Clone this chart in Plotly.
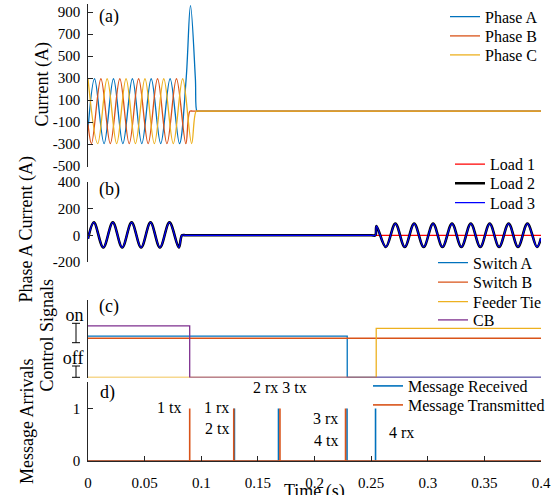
import plotly.graph_objects as go

# ---------------- data ----------------
# Panel (a): three-phase feeder current, extrema / break points (time s, current A)
phase_a_t = [0.0, 0.0058, 0.0142, 0.0225, 0.0308, 0.0392, 0.0475, 0.0558, 0.0642,
             0.0725, 0.0808, 0.0867, 0.0905, 0.0948, 0.0962, 0.0975, 0.1000, 0.4000]
phase_a_i = [-165, 295, -295, 295, -295, 295, -295, 295, -295,
             295, -295, 300, 960, 300, 0, 0, 0, 0]
phase_b_t = [0.0, 0.0031, 0.0114, 0.0197, 0.0281, 0.0364, 0.0447, 0.0531, 0.0614,
             0.0697, 0.0781, 0.0864, 0.0900, 0.0925, 0.1000, 0.4000]
phase_b_i = [-118, -295, 295, -295, 295, -295, 295, -295, 295,
             -295, 295, -295, 0, 0, 0, 0]
phase_c_t = [0.0, 0.0086, 0.0169, 0.0253, 0.0336, 0.0419, 0.0503, 0.0586, 0.0669,
             0.0753, 0.0836, 0.0915, 0.0955, 0.0980, 0.1000, 0.4000]
phase_c_i = [295, -295, 295, -295, 295, -295, 295, -295, 295,
             -295, 295, -295, 0, 0, 0, 0]

# Panel (b): phase A load currents (A)
load1_t = [0.0, 0.0052, 0.0135, 0.0219, 0.0302, 0.0385, 0.0469, 0.0552, 0.0635,
           0.0719, 0.0802, 0.0830, 0.0860, 0.0900, 0.4000]
load1_i = [-26, 97, -92, 97, -92, 97, -92, 97, -92,
           97, -92, 0, 0, 0, 0]
load23_t = [0.0, 0.0052, 0.0135, 0.0219, 0.0302, 0.0385, 0.0469, 0.0552, 0.0635,
            0.0719, 0.0802, 0.0830, 0.0860, 0.0900, 0.2500, 0.2537,
            0.2547, 0.2630, 0.2714, 0.2797, 0.2880, 0.2964, 0.3047, 0.3130, 0.3214,
            0.3297, 0.3380, 0.3464, 0.3547, 0.3630, 0.3714, 0.3797, 0.3880, 0.3964, 0.4000]
load23_i = [-26, 97, -92, 97, -92, 97, -92, 97, -92,
            97, -92, 0, 0, 0, 0, 0,
            70, -88, 88, -88, 88, -88, 88, -88, 88,
            -88, 88, -88, 88, -88, 88, -88, 88, -88, -20]

# Panel (c): control signals (step levels)
switch_a_t = [0.0, 0.2289, 0.4]
switch_a_v = [0.80, 0.0, 0.0]
switch_b_t = [0.0, 0.4]
switch_b_v = [0.76, 0.76]
feeder_tie_t = [0.0, 0.2545, 0.4]
feeder_tie_v = [0.0, 0.95, 0.95]
cb_t = [0.0, 0.0898, 0.4]
cb_v = [1.0, 0.0, 0.0]

# Panel (d): message events (s)
rx_times = [0.1293, 0.1682, 0.2287, 0.2539]
tx_times = [0.0898, 0.1287, 0.1695, 0.2274]

x_tick_vals = [0, 0.05, 0.1, 0.15, 0.2, 0.25, 0.3, 0.35, 0.4]
x_tick_text = ["0", "0.05", "0.1", "0.15", "0.2", "0.25", "0.3", "0.35", "0.4"]
y_a_ticks = [-500, -300, -100, 100, 300, 500, 700, 900]
y_a_text = ["-500", "-300", "-100", "100", "300", "500", "700", "900"]
y_b_ticks = [-200, 0, 200, 400]
y_b_text = ["-200", "0", "200", "400"]
y_d_ticks = [0, 1]
y_d_text = ["0", "1"]

# ---------------- styling ----------------
BLUE, ORANGE, YELLOW, PURPLE = "#0072BD", "#D95319", "#EDB120", "#7E2F8E"
FONT = "Liberation Serif, Times New Roman, serif"
AX = "#262626"
NB = "\u00a0"
W, H = 560, 495
L, R, T, B = 88, 19, 4, 34
PW, PH = W - L - R, H - T - B


def px_x(px):
    return (px - L) / PW


def px_y(py):
    return (H - B - py) / PH


def stem_xy(times, t0=0.0, t1=0.4):
    xs, ys = [t0], [0]
    for t in times:
        xs += [t, t, t]
        ys += [0, 1, 0]
    xs.append(t1)
    ys.append(0)
    return xs, ys


fig = go.Figure()

# (a)
for name, t, v, c, leg in [("Phase A", phase_a_t, phase_a_i, BLUE, "legend"),
                           ("Phase B", phase_b_t, phase_b_i, ORANGE, "legend2"),
                           ("Phase C", phase_c_t, phase_c_i, YELLOW, "legend3")]:
    fig.add_trace(go.Scatter(x=t, y=v, mode="lines", name=name, legend=leg, showlegend=True,
                             line=dict(color=c, width=1.3, shape="spline"),
                             xaxis="x", yaxis="y"))
# (b)
fig.add_trace(go.Scatter(x=load1_t, y=load1_i, mode="lines", name="Load 1", legend="legend4",
                         line=dict(color="#FF0000", width=1.3, shape="spline"), xaxis="x2", yaxis="y2"))
fig.add_trace(go.Scatter(x=load23_t, y=load23_i, mode="lines", name="Load 2", legend="legend5",
                         line=dict(color="#000000", width=2.6, shape="spline"), xaxis="x2", yaxis="y2"))
fig.add_trace(go.Scatter(x=load23_t, y=load23_i, mode="lines", name="Load 3", legend="legend6",
                         line=dict(color="#0000FF", width=1.2, shape="spline"), xaxis="x2", yaxis="y2"))
# (c)
for name, t, v, c, leg in [("Switch A", switch_a_t, switch_a_v, BLUE, "legend7"),
                           ("Switch B", switch_b_t, switch_b_v, ORANGE, "legend8"),
                           ("Feeder Tie", feeder_tie_t, feeder_tie_v, YELLOW, "legend9"),
                           ("CB", cb_t, cb_v, PURPLE, "legend10")]:
    fig.add_trace(go.Scatter(x=t, y=v, mode="lines", name=name, legend=leg,
                             line=dict(color=c, width=1.3, shape="hv"),
                             xaxis="x3", yaxis="y3"))
# (d)
rx_x, rx_y = stem_xy(rx_times)
tx_x, tx_y = stem_xy(tx_times)
fig.add_trace(go.Scatter(x=rx_x, y=rx_y, mode="lines", name="Message Received", legend="legend11",
                         line=dict(color=BLUE, width=1.6), xaxis="x4", yaxis="y4"))
fig.add_trace(go.Scatter(x=tx_x, y=tx_y, mode="lines", name="Message Transmitted", legend="legend12",
                         line=dict(color=ORANGE, width=1.6), xaxis="x4", yaxis="y4"))

# domains
dom_a = [px_y(166.7), 1.0]
dom_b = [px_y(262), px_y(182)]
dom_c = [px_y(377.5), px_y(300)]
dom_d = [0.0, px_y(382.4)]

hidden_x = dict(range=[0, 0.4], visible=False)
yax_common = dict(showgrid=False, zeroline=False, showline=True, linecolor=AX, linewidth=1,
                  ticks="inside", ticklen=5, tickcolor=AX, tickwidth=1, ticklabeloverflow="allow",
                  tickfont=dict(family=FONT, size=15, color="black"))

layout = dict(
    width=W, height=H, margin=dict(l=L, r=R, t=T, b=B, autoexpand=False),
    paper_bgcolor="white", plot_bgcolor="white", showlegend=True,
    font=dict(family=FONT, size=15, color="black"),
    xaxis=dict(hidden_x, anchor="y"),
    xaxis2=dict(hidden_x, anchor="y2"),
    xaxis3=dict(hidden_x, anchor="y3"),
    # labelled time axis: transparent outside ticks push the labels down
    xaxis4=dict(range=[0, 0.4], anchor="y4", showgrid=False, zeroline=False, showline=True,
                linecolor=AX, linewidth=1, ticks="outside", ticklen=8,
                tickcolor="rgba(0,0,0,0)", ticklabeloverflow="allow",
                tickvals=x_tick_vals, ticktext=x_tick_text,
                tickfont=dict(family=FONT, size=15, color="black")),
    # overlay axis that only draws the inward tick marks
    xaxis5=dict(range=[0, 0.4], anchor="y4", overlaying="x4", side="bottom", showgrid=False,
                zeroline=False, showline=False, ticks="inside", ticklen=5, tickcolor=AX,
                tickvals=x_tick_vals, showticklabels=False),
    yaxis=dict(yax_common, domain=dom_a, range=[-505, 975], anchor="x", tickvals=y_a_ticks,
               ticktext=[s + NB for s in y_a_text]),
    yaxis2=dict(yax_common, domain=dom_b, range=[-200.5, 400.5], anchor="x2", tickvals=y_b_ticks,
                ticktext=[s + NB for s in y_b_text]),
    yaxis3=dict(domain=dom_c, range=[0, 1.5], anchor="x3", showgrid=False, zeroline=False,
                showline=True, linecolor=AX, linewidth=1, ticks="",
                tickvals=[1.21, 0.377], ticktext=["on", "off"],
                tickfont=dict(family=FONT, size=18, color="black")),
    yaxis4=dict(yax_common, domain=dom_d, range=[0, 1.5], anchor="x4", tickvals=y_d_ticks,
                ticktext=[s + NB for s in y_d_text]),
)

# one legend per entry, positioned like the reference
legend_pos = {
    "legend": (445, 16.7), "legend2": (445, 36), "legend3": (445, 55),
    "legend4": (450, 164.3), "legend5": (450, 183.3), "legend6": (450, 202.7),
    "legend7": (433, 262.7), "legend8": (433, 282.3), "legend9": (433, 301.7), "legend10": (433, 320),
    "legend11": (368, 386), "legend12": (368, 405),
}
for key, (lx, ly) in legend_pos.items():
    layout[key] = dict(x=px_x(lx), y=px_y(ly), xanchor="left", yanchor="middle",
                       bgcolor="rgba(0,0,0,0)", borderwidth=0,
                       font=dict(family=FONT, size=16, color="black"))

fig.update_layout(**layout)
# invisible carrier so the overlay tick axis is drawn
fig.add_trace(go.Scatter(x=[0.0], y=[0.0], mode="markers", marker=dict(opacity=0),
                         showlegend=False, hoverinfo="skip", xaxis="x5", yaxis="y4"))

ann = []
# axis titles
for text, x, y in [("Current (A)", 41.5, 85), ("Phase A Current (A)", 25.5, 229),
                   ("Control Signals", 46.5, 335), ("Message Arrivals", 27, 422)]:
    ann.append(dict(text=text, x=px_x(x), y=px_y(y), xref="paper", yref="paper",
                    textangle=-90, showarrow=False, xanchor="center", yanchor="middle",
                    font=dict(family=FONT, size=18)))
ann.append(dict(text="Time (s)", x=px_x(314), y=px_y(479), xref="paper", yref="paper",
                showarrow=False, xanchor="center", yanchor="top", font=dict(family=FONT, size=18)))
# panel letters
for text, x, y in [("(a)", 97, 16), ("(b)", 97, 190), ("(c)", 97, 306), ("d)", 98, 392)]:
    ann.append(dict(text=text, x=px_x(x), y=px_y(y), xref="paper", yref="paper",
                    showarrow=False, xanchor="left", yanchor="middle", font=dict(family=FONT, size=18)))
# message labels (data coordinates of panel d)
for text, x, y, xa in [("1 tx", 0.0843, 1.03, "right"), ("1 rx", 0.1262, 1.03, "right"),
                       ("2 tx", 0.1262, 0.62, "right"), ("2 rx 3 tx", 0.1695, 1.41, "center"),
                       ("3 rx", 0.2225, 0.81, "right"), ("4 tx", 0.2225, 0.40, "right"),
                       ("4 rx", 0.2636, 0.55, "left")]:
    ann.append(dict(text=text, x=x, y=y, xref="x4", yref="y4", showarrow=False,
                    xanchor=xa, yanchor="middle", font=dict(family=FONT, size=16)))
fig.update_layout(annotations=ann)

# on / off brackets beside the control-signal axis
shapes = []
for top, bot in [(323.3, 342.7), (366, 377.3)]:
    xc = px_x(76)
    shapes.append(dict(type="line", xref="paper", yref="paper", x0=xc, x1=xc,
                       y0=px_y(top), y1=px_y(bot), line=dict(color="black", width=1)))
    for yy in (top, bot):
        shapes.append(dict(type="line", xref="paper", yref="paper", x0=px_x(72), x1=px_x(80),
                           y0=px_y(yy), y1=px_y(yy), line=dict(color="black", width=1)))
fig.update_layout(shapes=shapes)

fig.write_html("out.html", config={"displayModeBar": False},
               post_script="document.body.style.margin='0';document.body.style.overflow='hidden';")
